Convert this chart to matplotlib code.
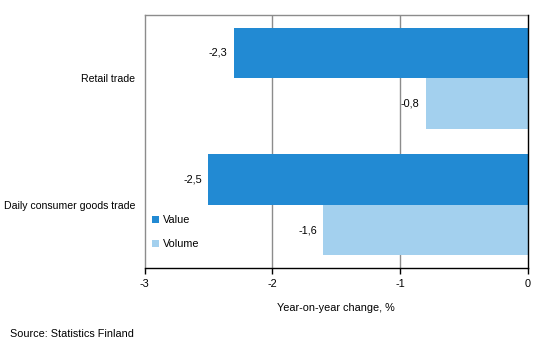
import matplotlib
matplotlib.use("Agg")
import matplotlib.pyplot as plt
import numpy as np

plt.rcParams['font.family'] = ['Liberation Sans', 'DejaVu Sans']

categories = ["Retail trade", "Daily consumer goods trade"]
value = [-2.3, -2.5]
volume = [-0.8, -1.6]
series_names = ["Value", "Volume"]
xticks = [-3, -2, -1, 0]

c_value = "#228AD3"
c_volume = "#A3D0EE"

fig = plt.figure(figsize=(5.39, 3.63), dpi=100)
ax = fig.add_axes([144.5/539, 1-268/363, (528-144.5)/539, (268-15)/363])

y = np.arange(len(categories))
h = 0.4
ax.barh(y - h/2, value, height=h, color=c_value, label=series_names[0], zorder=3)
ax.barh(y + h/2, volume, height=h, color=c_volume, label=series_names[1], zorder=3)

def fmt(v):
    return f"{v:.1f}".replace(".", ",")

for yi, v in zip(y - h/2, value):
    ax.annotate(fmt(v), (v, yi), xytext=(-4.5, 0), textcoords="offset points",
                ha="right", va="center", fontsize=7.8, color="black")
for yi, v in zip(y + h/2, volume):
    ax.annotate(fmt(v), (v, yi), xytext=(-4.5, 0), textcoords="offset points",
                ha="right", va="center", fontsize=7.8, color="black")

ax.set_xlim(-3, 0)
ax.set_ylim(len(categories) - 0.5, -0.5)
ax.set_yticks(y)
ax.set_yticklabels(categories, fontsize=7.6)
ax.tick_params(axis="y", length=0, pad=6.5)
ax.set_xticks(xticks)
ax.set_xticklabels([str(t) for t in xticks], fontsize=7.8)
ax.tick_params(axis="x", length=4, width=1, color="black", pad=4, direction="out")

for xv in xticks[1:-1]:
    ax.axvline(xv, color="#8c8c8c", lw=1, zorder=1)

for s in ["top", "left"]:
    ax.spines[s].set_color("#8c8c8c")
    ax.spines[s].set_linewidth(1)
ax.spines["right"].set_color("black")
ax.spines["right"].set_linewidth(1)
ax.spines["right"].set_zorder(4)
ax.spines["bottom"].set_color("black")
ax.spines["bottom"].set_linewidth(1)

ax.set_xlabel("Year-on-year change, %", fontsize=7.8, labelpad=10)

leg = ax.legend(loc="lower left", bbox_to_anchor=(0.0, 0.045), frameon=False,
                fontsize=7.8, handlelength=0.6, handleheight=0.6, handletextpad=0.4,
                labelspacing=1.3, borderaxespad=0.3)

fig.text(10/539, 1-334/363, "Source: Statistics Finland", fontsize=7.8, va="center", ha="left")

fig.savefig("out.png", dpi=100)
